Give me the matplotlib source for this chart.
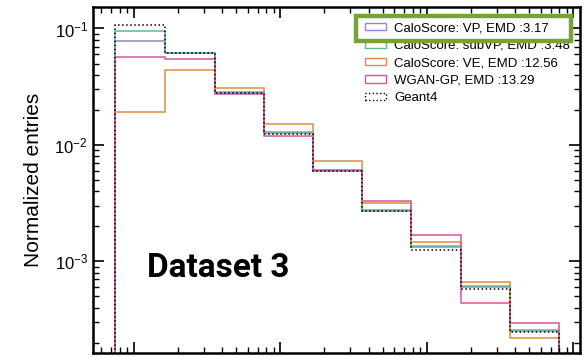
import matplotlib
matplotlib.use("Agg")
import matplotlib.pyplot as plt
from matplotlib.patches import Rectangle, Patch
import numpy as np

plt.rcParams["font.family"] = ["Liberation Sans", "DejaVu Sans"]
plt.rcParams["mathtext.fontset"] = "custom"
plt.rcParams["mathtext.rm"] = "Liberation Sans"
plt.rcParams["mathtext.it"] = "Liberation Sans:italic"

# bin edges (log-spaced)
edges = [0.742, 1.63, 3.57, 7.71, 16.7, 36.0, 77.8, 171.0, 369.0, 796.0]

geant4 = [0.108, 0.0618, 0.0279, 0.0125, 0.0060, 0.00268, 0.00125, 0.000573, 0.000248]
vp     = [0.0778, 0.0620, 0.0280, 0.0127, 0.00605, 0.00272, 0.00132, 0.000603, 0.000250]
subvp  = [0.0956, 0.0615, 0.0283, 0.0128, 0.00610, 0.00275, 0.00134, 0.000610, 0.000255]
ve     = [0.0191, 0.0436, 0.0310, 0.0152, 0.00733, 0.00316, 0.00145, 0.000665, 0.000217]
wgan   = [0.0564, 0.0550, 0.0276, 0.0119, 0.00600, 0.00331, 0.00169, 0.000440, 0.000296]

labels = ["CaloScore: VP, EMD :3.17", "CaloScore: subVP, EMD :3.48",
          "CaloScore: VE, EMD :12.56", "WGAN-GP, EMD :13.29", "Geant4"]
colors = ["#8f88c8", "#63b49b", "#dc8d42", "#d9539f", "black"]

fig = plt.figure(figsize=(5.87, 3.57), dpi=100)
ax = fig.add_axes([0.158, 0.011, 0.83, 0.969])

series = [vp, subvp, ve, wgan, geant4]
handles = []
for i, vals in enumerate(series):
    ls = ":" if labels[i] == "Geant4" else "-"
    ax.stairs(vals, edges, baseline=1e-6, color=colors[i], linestyle=ls,
              linewidth=1.1)
    handles.append(Patch(facecolor="none", edgecolor=colors[i], linestyle=ls,
                         linewidth=1.0, label=labels[i]))

ax.set_xscale("log")
ax.set_yscale("log")
ax.set_xlim(0.525, 1107)
ax.set_ylim(1.626e-4, 0.1525)
ax.set_ylabel("Normalized entries", fontsize=15, labelpad=8)

ax.tick_params(which="both", direction="in", top=True, right=True,
               labelbottom=False, labelsize=12)
ax.tick_params(which="major", length=8, width=1.2)
ax.tick_params(which="minor", length=4.5, width=1)
for s in ax.spines.values():
    s.set_linewidth(1.8)

leg = ax.legend(handles=handles, loc="upper right",
                bbox_to_anchor=(0.99, 0.972), borderaxespad=0, frameon=False,
                fontsize=9.5, handlelength=1.6, handleheight=0.53,
                handletextpad=0.6, labelspacing=0.42)

ax.text(0.112, 0.245, "Dataset 3", transform=ax.transAxes, fontsize=24,
        fontweight="bold", family="Roboto", ha="left", va="center")

# green highlight around the first legend entry
fig.canvas.draw()
r = fig.canvas.get_renderer()
tb = leg.get_texts()[0].get_window_extent(r)
hb = leg.legend_handles[0].get_window_extent(r)
cy = (tb.y0 + tb.y1) / 2
x0, x1 = hb.x0 - 9, tb.x1 + 22
y0, y1 = cy - 12.5, cy + 12.5
inv = fig.transFigure.inverted()
(fx0, fy0), (fx1, fy1) = inv.transform([(x0, y0), (x1, y1)])
fig.patches.append(Rectangle((fx0, fy0), fx1 - fx0, fy1 - fy0,
                             transform=fig.transFigure, fill=False,
                             edgecolor="#79a13a", linewidth=3.2, zorder=10))

fig.savefig("out.png", dpi=100)
